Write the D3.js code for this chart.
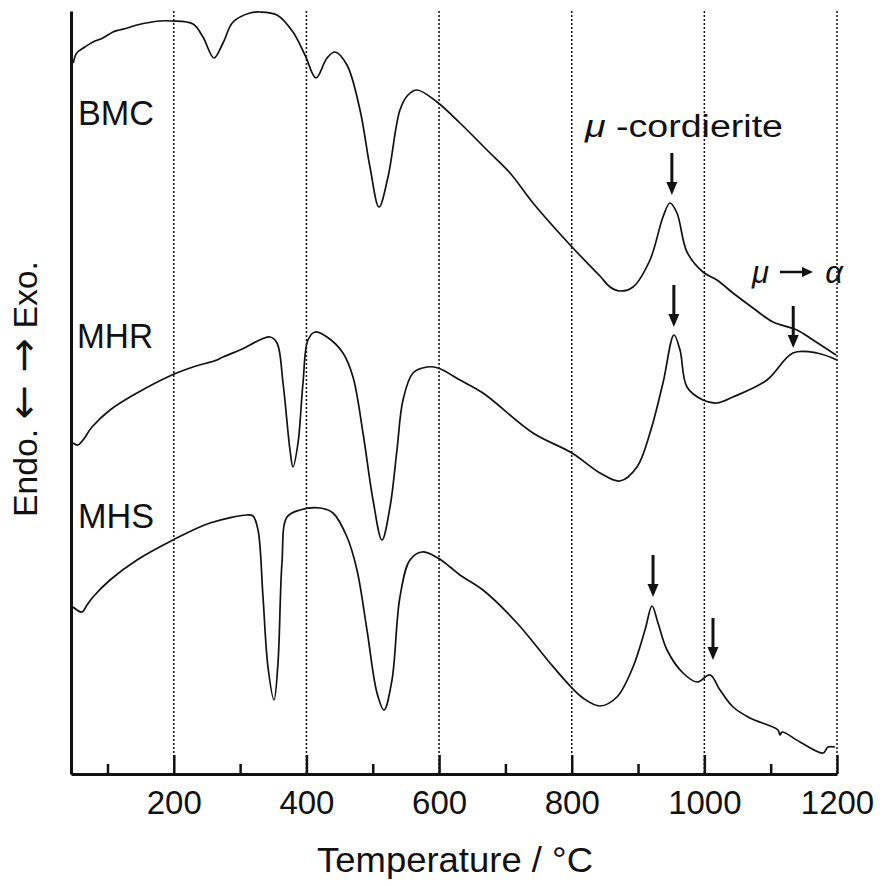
<!DOCTYPE html>
<html>
<head>
<meta charset="utf-8">
<script src="https://cdn.jsdelivr.net/npm/d3@7"></script>
<style>
  body { margin: 0; background: #fff; }
  text { font-family: "Liberation Sans", Arial, Helvetica, sans-serif; fill: #111; }
</style>
</head>
<body>
<div id="chart"></div>
<script>
// DTA traces, [temperature in °C, signal in arbitrary units]
var bmc = [[48.5,711],[53.6,721],[66,727],[78.2,732],[93,736],[108.3,742],[118,744],[130,746],[144.5,749],[179.2,753],
  [197.3,753],[229,750],[244,737],[260.6,716],[274.2,731],[289.3,752],[314.9,761],[330,762],[355.6,759],[379.7,742],
  [397.8,719],[414.4,696],[431,716],[443,722],[461.1,709],[480.8,664],[495.8,607],[509.4,567],[523,597],[541,664],
  [553.1,679],[566.7,684],[596.9,672],[631.5,651],[672.2,624],[707,601],[741.6,571],[800.4,527],[842.6,498],[857.7,487],
  [872.8,483],[892.4,487],[918,514],[937.6,557],[948.1,571],[958.7,561],[973.8,522],[997.9,502],[1019,494],[1043.2,481],
  [1073.3,466],[1103.5,452],[1139.7,444],[1163.8,434],[1198.5,419]];

var mhr = [[48,331],[55.6,329],[63.1,334],[76.7,347],[103.8,364],[144.5,381],[197.3,399],[229,407],[265.1,414],[274.2,417],
  [299.8,424],[345.1,437],[355.6,431],[364.7,391],[375.2,324],[379.7,307],[387.3,331],[394.8,391],[402.3,434],[412.9,442],
  [431,437],[455.1,421],[470.2,397],[485.3,341],[500.4,274],[513.9,234],[526,267],[536.5,324],[545.6,374],[560.7,401],
  [581.8,407],[598.4,406],[631.5,394],[666.2,381],[741.6,341],[800.4,321],[842.6,301],[872.8,293],[898.4,307],[918,341],
  [937.6,391],[954.2,439],[963.3,424],[973.8,387],[997.9,374],[1019,371],[1043.2,377],[1094.4,394],[1133.6,421],
  [1169.8,421],[1200,414]];

var mhs = [[48,167],[61.6,162],[69.1,169],[78.2,177],[103.8,194],[144.5,214],[198.8,234],[254.6,251],[310.4,259],[319.4,258],
  [327,244],[334.5,177],[342,107],[351.1,74],[357.1,111],[363.1,211],[370.7,257],[390.3,264],[420.4,266],[440,261],
  [461.2,237],[476.2,204],[491.3,144],[506.4,81],[517,64],[529,94],[541,177],[556.1,214],[574.2,222],[598.4,216],
  [616.5,207],[631.5,199],[666.2,184],[717.5,151],[767.2,111],[800.4,86],[817,76],[842.6,68],[868.2,77],[892.4,107],
  [910.5,144],[921.1,168],[930.1,151],[943.7,124],[967.8,101],[988.9,92],[1008.5,99],[1023.6,84],[1043.2,67],[1068.8,56],
  [1111,44],[1114,39],[1117.1,42],[1144.2,32],[1178.9,21],[1186.4,27],[1197,27]];

var majorTicks = [200, 400, 600, 800, 1000, 1200];
var minorTicks = [100, 300, 500, 700, 900, 1100];

// peak markers: [temperature, signal at arrow tip]
var peakArrows = [[951, 579], [954, 447], [1134, 426], [922.6, 177], [1013, 114]];

var seriesLabels = ['BMC', 'MHR', 'MHS'];

var margin = {top: 11, right: 47, bottom: 112, left: 71},
    width = 884 - margin.left - margin.right,
    height = 886 - margin.top - margin.bottom;

var xScale = d3.scaleLinear().domain([45, 1200]).range([0, width]);
var yScale = d3.scaleLinear().domain([0, 763]).range([height, 0]);

var line = d3.line()
    .x(function(d) { return xScale(d[0]); })
    .y(function(d) { return yScale(d[1]); })
    .curve(d3.curveCatmullRom.alpha(0.5));

var svg = d3.select('#chart').append('svg')
    .attr('width', 884)
    .attr('height', 886);

var g = svg.append('g')
    .attr('transform', 'translate(' + margin.left + ',' + margin.top + ')');

// dotted guide lines
g.selectAll('.grid').data(majorTicks).enter().append('line')
    .attr('class', 'grid')
    .attr('x1', d => xScale(d)).attr('x2', d => xScale(d))
    .attr('y1', 0).attr('y2', height)
    .style('stroke', '#111')
    .style('stroke-width', 1.5)
    .style('stroke-dasharray', '2,2');

// curves
[bmc, mhr, mhs].forEach(function(s) {
    g.append('path')
        .attr('d', line(s))
        .style('fill', 'none')
        .style('stroke', '#111')
        .style('stroke-width', 1.7)
        .style('stroke-linejoin', 'round');
});

// axes
var minorAxis = d3.axisBottom(xScale).tickValues(minorTicks).tickSize(-10).tickSizeOuter(0).tickFormat('');
var xAxis = d3.axisBottom(xScale).tickValues(majorTicks).tickSize(-19).tickSizeOuter(0)
    .tickPadding(17).tickFormat(d3.format('d'));
var yAxis = d3.axisLeft(yScale).tickValues([]).tickSizeOuter(0);

var gMinor = g.append('g').attr('transform', 'translate(0,' + height + ')').call(minorAxis);
gMinor.select('.domain').remove();
gMinor.selectAll('line').style('stroke', '#111').style('stroke-width', 2.5);

var gx = g.append('g').attr('transform', 'translate(0,' + height + ')').call(xAxis);
gx.select('.domain').style('stroke', '#111').style('stroke-width', 3);
gx.selectAll('.tick line').style('stroke', '#111').style('stroke-width', 2.5);
gx.selectAll('.tick text')
    .style('font-size', '33px')
    .style('font-family', '"Liberation Sans", Arial, sans-serif')
    .style('fill', '#111');

var gy = g.append('g').call(yAxis);
gy.select('.domain').style('stroke', '#111').style('stroke-width', 3);

// arrows marking the crystallisation peaks
var arrowLen = 42;
peakArrows.forEach(function(a) {
    var ax = xScale(a[0]), ay = yScale(a[1]);
    g.append('line')
        .attr('x1', ax).attr('x2', ax)
        .attr('y1', ay - arrowLen).attr('y2', ay - 10)
        .style('stroke', '#111').style('stroke-width', 3);
    g.append('path')
        .attr('d', 'M' + (ax - 5.5) + ',' + (ay - 13) + 'L' + (ax + 5.5) + ',' + (ay - 13) + 'L' + ax + ',' + ay + 'Z')
        .style('fill', '#111');
});

// series labels
var labelPos = [[7, 114], [6, 337], [7, 517]];
seriesLabels.forEach(function(t, i) {
    g.append('text')
        .attr('x', labelPos[i][0]).attr('y', labelPos[i][1])
        .attr('textLength', 76).attr('lengthAdjust', 'spacingAndGlyphs')
        .style('font-size', '35px')
        .text(t);
});

// annotations
var cord = svg.append('text')
    .attr('x', 585).attr('y', 137)
    .attr('textLength', 198).attr('lengthAdjust', 'spacingAndGlyphs')
    .style('font-size', '31px');
cord.append('tspan').style('font-style', 'italic').text('μ');
cord.append('tspan').text(' -cordierite');

svg.append('text')
    .attr('x', 752).attr('y', 283)
    .style('font-size', '31px').style('font-style', 'italic')
    .text('μ');
svg.append('text')
    .attr('x', 843).attr('y', 283).attr('text-anchor', 'end')
    .style('font-size', '31px').style('font-style', 'italic')
    .text('α');
svg.append('line')
    .attr('x1', 780).attr('x2', 803).attr('y1', 272).attr('y2', 272)
    .style('stroke', '#111').style('stroke-width', 2.5);
svg.append('path')
    .attr('d', 'M802,267L813,272L802,277Z')
    .style('fill', '#111');

// axis titles
svg.append('text')
    .attr('x', 455).attr('y', 872).attr('text-anchor', 'middle')
    .attr('textLength', 276).attr('lengthAdjust', 'spacingAndGlyphs')
    .style('font-size', '35px')
    .text('Temperature / °C');

var ylab = svg.append('text')
    .attr('transform', 'translate(37,389) rotate(-90)')
    .attr('text-anchor', 'middle')
    .attr('textLength', 256).attr('lengthAdjust', 'spacingAndGlyphs')
    .style('font-size', '33px');
ylab.append('tspan').text('Endo. ');
ylab.append('tspan').style('font-family', '"DejaVu Sans", sans-serif').style('font-size', '40px').text('←  →');
ylab.append('tspan').text(' Exo.');
</script>
</body>
</html>
